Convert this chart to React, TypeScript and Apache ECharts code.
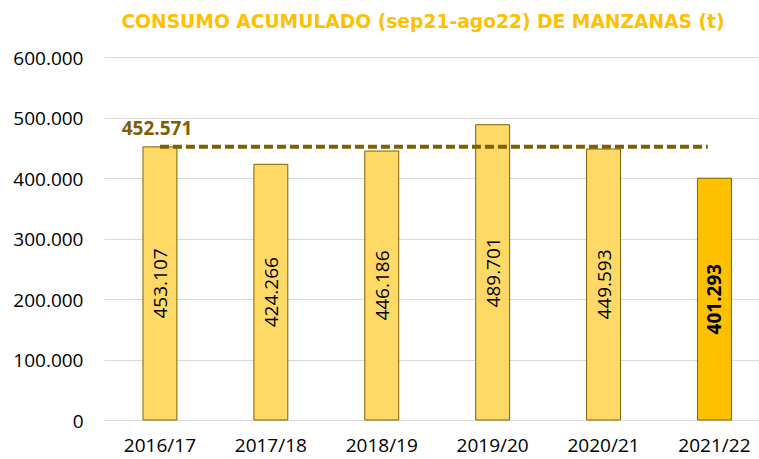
import React, { useEffect, useRef } from "react";
import * as echarts from "echarts";

const categories = ["2016/17", "2017/18", "2018/19", "2019/20", "2020/21", "2021/22"];
const values = [453107, 424266, 446186, 489701, 449593, 401293];
const average = 452571;
const averageLineIndexSpan = [0, 4.94];
const titleText = "CONSUMO ACUMULADO (sep21-ago22) DE MANZANAS (t)";

const fmt = (v: number) => String(Math.round(v)).replace(/\B(?=(\d{3})+(?!\d))/g, ".");

export default function App() {
  const ref = useRef<HTMLDivElement>(null);
  useEffect(() => {
    document.body.style.margin = "0";
    document.body.style.overflow = "hidden";
    document.documentElement.style.overflow = "hidden";
    const chart = echarts.init(ref.current!, null, { renderer: "svg" });
    const font = "Open Sans";
    chart.setOption({
      animation: false,
      backgroundColor: "#ffffff",
      title: {
        text: titleText,
        left: 418,
        textAlign: "center",
        top: 7,
        textStyle: { color: "#FFC000", fontFamily: "DejaVu Sans", fontWeight: "bold", fontSize: 18.7 },
      },
      grid: { left: 104.5, right: 1.1, top: 57.5, bottom: 38.5, containLabel: false },
      xAxis: [
        {
          type: "category",
          data: categories,
          axisLine: { show: true, lineStyle: { color: "#D9D9D9", width: 1 } },
          axisTick: { show: false },
          axisLabel: { color: "#000000", fontFamily: font, fontSize: 19, margin: 15 },
        },
        {
          type: "value",
          min: -0.5,
          max: 5.5,
          show: false,
        },
      ],
      yAxis: {
        type: "value",
        min: 0,
        max: 600000,
        interval: 100000,
        axisLine: { show: false },
        axisTick: { show: false },
        splitLine: { lineStyle: { color: "#D9D9D9", width: 1 } },
        axisLabel: { color: "#000000", fontFamily: font, fontSize: 19, margin: 21, formatter: (v: number) => fmt(v) },
      },
      series: [
        {
          type: "bar",
          xAxisIndex: 0,
          barWidth: "31.5%",
          data: values.map((v, i) => ({
            value: v,
            itemStyle: { color: i === values.length - 1 ? "#FFC000" : "#FFD966" },
            label: i === values.length - 1 ? { fontWeight: "bold" } : undefined,
          })),
          itemStyle: { borderColor: "#7F6000", borderWidth: 1 },
          label: {
            show: true,
            position: "inside",
            rotate: 90,
            color: "#000000",
            fontFamily: font,
            fontSize: 19,
            formatter: (p: any) => fmt(p.value),
          },
        },
        {
          type: "line",
          xAxisIndex: 1,
          data: averageLineIndexSpan.map((x) => [x, average]),
          symbol: "circle",
          symbolSize: 0.01,
          showSymbol: true,
          label: {
            show: true,
            position: "top",
            offset: [-3, -4],
            color: "#7F6000",
            fontFamily: font,
            fontWeight: "bold",
            fontSize: 19,
            formatter: (p: any) => (p.dataIndex === 0 ? fmt(average) : ""),
          },
          lineStyle: { color: "#7F6000", width: 4, type: [9, 4] },
          itemStyle: { color: "#7F6000" },
          z: 5,
        },
      ],
    });
    return () => chart.dispose();
  }, []);
  return <div ref={ref} style={{ width: 771, height: 459 }} />;
}
